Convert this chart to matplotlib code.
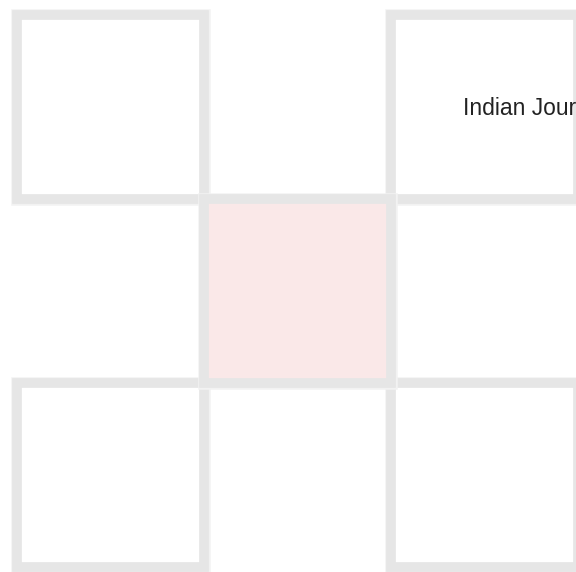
import matplotlib.pyplot as plt
from matplotlib.patches import Rectangle

# cell layout: None = no cell, 0 = plain cell, 1 = highlighted cell
rows = [0, 1, 2]
cols = [0, 1, 2]
cells = [
    [0, None, 0],
    [None, 1, None],
    [0, None, 0],
]
fill_colors = {0: "#ffffff", 1: "#fae8e8"}
label = "Indian Journal"

border = "#e6e6e6"
halo = "#f2f2f2"

fig = plt.figure(figsize=(5.76, 5.72), dpi=100)
ax = fig.add_axes([0, 0, 1, 1])
ax.set_xlim(-17 / 187, (576 - 17) / 187)
ax.set_ylim((572 - 14.5) / 184, -14.5 / 184)
ax.axis("off")

for r in rows:
    for c in cols:
        v = cells[r][c]
        if v is None:
            continue
        z = 3 if v == 1 else 1
        # filled faces keep the stroke from being cut at the figure edge
        ax.add_patch(Rectangle((c, r), 1, 1, facecolor=fill_colors[v],
                               edgecolor=halo, linewidth=9.0,
                               joinstyle="miter", zorder=z))
        ax.add_patch(Rectangle((c, r), 1, 1, facecolor=fill_colors[v],
                               edgecolor=border, linewidth=7.0,
                               joinstyle="miter", zorder=z + 0.1))

fig.text(463 / 576, 1 - 108.5 / 572, label, ha="left", va="center",
         fontsize=16.5, color="#222222",
         family=["Liberation Sans", "DejaVu Sans"])

fig.savefig("out.png", dpi=100)
